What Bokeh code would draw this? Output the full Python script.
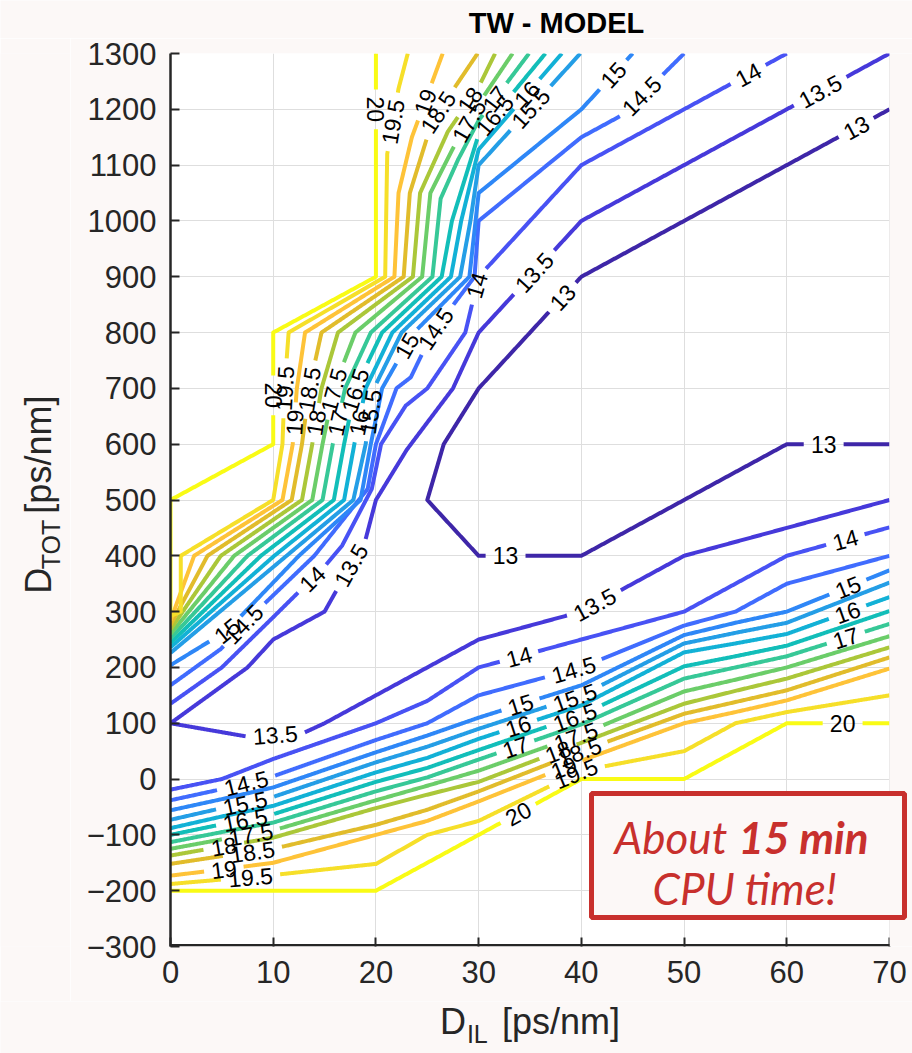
import math
from bokeh.plotting import figure
from bokeh.layouts import column, row
from bokeh.models import Range1d, FixedTicker, Label, BoxAnnotation
from bokeh.core.properties import value
from bokeh.embed import file_html
from bokeh.resources import INLINE

# ---------------- data ----------------
LEVELS = [13.0, 13.5, 14.0, 14.5, 15.0, 15.5, 16.0, 16.5, 17.0, 17.5, 18.0, 18.5, 19.0, 19.5, 20.0]
X_TICKS = [0, 10, 20, 30, 40, 50, 60, 70]
Y_TICKS = [-300, -200, -100, 0, 100, 200, 300, 400, 500, 600, 700, 800, 900, 1000, 1100, 1200, 1300]

# level 13 (one U-shaped line)
L13_X = [70, 40, 30, 26.6, 25, 30, 40, 50, 60, 70]
L13_Y = [1200, 900, 700, 600, 500, 400, 400, 500, 600, 600]

# level 13.5 (upper branch folds back at D_IL=0 into the lower branch)
L135_X = [70, 40, 30, 27.5, 23, 20, 19, 15.7, 15, 10, 7.5, 0, 7.5, 13, 15, 20, 30, 40, 50, 60, 70]
L135_Y = [1300, 1000, 800, 700, 590, 500, 430, 323, 300, 250, 200, 100, 76, 83, 100, 150, 250, 300, 400, 450, 500]

# upper branches (levels 14 ... 20)
U140_X = [60, 40, 30, 28.7, 25, 22.9, 20.5, 19.6, 16.7, 15.1, 10, 5, 0]
U140_Y = [1300, 1100, 900, 800, 700, 669, 600, 520, 418, 383, 290, 200, 135]
U145_X = [50, 44, 40, 30, 29.6, 25.5, 23.4, 22, 20, 19.2, 14, 7.1, 4.9, 0]
U145_Y = [1300, 1190, 1150, 1000, 900, 800, 720, 700, 600, 520, 400, 278, 233, 168]
U150_X = [45, 40, 30, 29.1, 23.7, 20.6, 19.5, 18.5, 12.5, 5.5, 0]
U150_Y = [1300, 1200, 1050, 900, 800, 700, 600, 500, 400, 266, 204]
U155_X = [39.9, 30, 29.2, 28.2, 22.5, 19.8, 19.0, 17.8, 11.3, 0]
U155_Y = [1300, 1100, 1000, 900, 800, 700, 600, 500, 400, 226]
U160_X = [38.1, 30, 28.3, 27.3, 21.6, 19.0, 17.9, 16.9, 10.1, 0]
U160_Y = [1300, 1128, 1000, 900, 800, 700, 600, 500, 400, 236]
U165_X = [36.5, 30, 27.4, 26.4, 20.6, 18.0, 16.9, 15.9, 8.8, 0]
U165_Y = [1300, 1155, 1000, 900, 800, 700, 600, 500, 400, 244]
U170_X = [34.9, 30, 28, 26.3, 25.5, 19.5, 17.0, 15.8, 14.8, 7.5, 0]
U170_Y = [1300, 1180, 1110, 1040, 900, 800, 700, 600, 500, 400, 252]
U175_X = [33.3, 30, 27.5, 25.3, 24.5, 18.0, 15.9, 14.8, 13.8, 6.2, 0]
U175_Y = [1300, 1210, 1130, 1050, 900, 800, 700, 600, 500, 400, 260]
U180_X = [31.6, 30, 27, 24.3, 23.6, 16.3, 14.7, 13.8, 12.8, 4.9, 0]
U180_Y = [1300, 1240, 1160, 1050, 900, 800, 700, 600, 500, 400, 268]
U185_X = [29.9, 25.5, 23.3, 22.7, 14.7, 13.5, 12.8, 11.8, 3.6, 0]
U185_Y = [1300, 1180, 1050, 900, 800, 700, 600, 500, 400, 276]
U190_X = [26.5, 23.5, 22.2, 21.8, 13.1, 12.3, 11.9, 10.9, 2.3, 0]
U190_Y = [1300, 1150, 1050, 900, 800, 700, 600, 500, 400, 284]
U195_X = [23.1, 22.2, 21.1, 20.9, 11.5, 11.1, 10.9, 10.0, 1.0, 1.0, 0]
U195_Y = [1300, 1237, 1120, 900, 800, 700, 600, 500, 400, 300, 292]
U200_X = [20, 20, 10, 10, 0, 0]
U200_Y = [1300, 900, 800, 600, 500, 300]

# lower band (levels 14 ... 20), common D_IL columns
LOW_X = [0, 5, 10, 20, 25, 30, 40, 50, 55, 60, 70]
W140_Y = [-19, 0, 36, 100, 140, 200, 250, 300, 350, 400, 451]
W145_Y = [-38, -18, 5, 70, 100, 150, 200, 275, 300, 350, 400]
W150_Y = [-56, -36, -15, 48, 78, 110, 168, 258, 280, 300, 374]
W155_Y = [-73, -52, -32, 30, 58, 90, 150, 243, 262, 280, 352]
W160_Y = [-88, -67, -48, 12, 38, 72, 132, 227, 243, 260, 326]
W165_Y = [-100, -81, -63, -5, 20, 52, 115, 202, 220, 239, 301]
W170_Y = [-113, -95, -78, -22, 3, 35, 98, 180, 200, 220, 278]
W175_Y = [-125, -108, -92, -38, -12, 15, 80, 157, 178, 200, 256]
W180_Y = [-137, -121, -105, -52, -28, -5, 65, 135, 158, 180, 236]
W185_Y = [-152, -138, -125, -82, -55, -22, 50, 117, 138, 159, 218]
W190_Y = [-173, -162, -150, -100, -75, -40, 33, 100, 120, 141, 198]
W195_Y = [-188, -180, -172, -152, -100, -75, 15, 50, 100, 120, 150]
W200_Y = [-200, -200, -200, -200, -150, -100, 0, 0, 50, 100, 100]

# inline contour labels (level, approximate position)
LABEL_LEVEL = [13, 13, 13, 13,
               13.5, 13.5, 13.5, 13.5, 13.5,
               14, 14, 14, 14, 14,
               14.5, 14.5, 14.5, 14.5, 14.5,
               15, 15, 15, 15, 15,
               15.5, 15.5, 15.5, 15.5,
               16, 16, 16, 16,
               16.5, 16.5, 16.5, 16.5,
               17, 17, 17, 17,
               17.5, 17.5, 17.5, 17.5,
               18, 18, 18, 18,
               18.5, 18.5, 18.5, 18.5,
               19, 19, 19, 19,
               19.5, 19.5, 19.5, 19.5,
               20, 20, 20, 20]
LABEL_X = [38, 66.7, 32.6, 63.6,
           63.1, 35.4, 17.7, 10.2, 41.2,
           56.2, 29.9, 13.8, 33.9, 65.7,
           46, 25.3, 7.1, 7.5, 39.3,
           43, 23.9, 5.5, 34.1, 65.9,
           36, 19.0, 7.3, 39.3,
           35.2, 17.9, 33.9, 65.9,
           31.6, 17.2, 7.3, 39.4,
           30.7, 15.8, 33.6, 65.7,
           28.4, 15.1, 7.8, 39.4,
           28.4, 13.8, 5.2, 37.8,
           25.5, 13.0, 8.0, 39.8,
           24, 11.9, 5.2, 38.1,
           21.6, 11.0, 7.8, 39.4,
           20, 10, 33.9, 65.4]
LABEL_Y = [866, 1171, 400, 600,
           1237, 908, 383, 73, 314,
           1264, 884, 359, 218, 427,
           1222, 813, 278, -15, 192,
           1264, 768, 266, 132, 344,
           1186, 660, -45, 147,
           1219, 640, 93, 300,
           1189, 700, -75, 111,
           1231, 640, 57, 257,
           1186, 700, -100, 78,
           1225, 640, -119, 48,
           1201, 700, -132, 48,
           1219, 640, -158, 30,
           1177, 700, -179, 12,
           1200, 687, -62, 96]

# ---------------- styling helpers ----------------
PARULA = [
    (0.2422, 0.1504, 0.6603), (0.2504, 0.1650, 0.7076), (0.2578, 0.1818, 0.7511), (0.2647, 0.1978, 0.7952),
    (0.2706, 0.2147, 0.8364), (0.2751, 0.2342, 0.8710), (0.2783, 0.2559, 0.8991), (0.2803, 0.2782, 0.9221),
    (0.2813, 0.3006, 0.9414), (0.2810, 0.3228, 0.9579), (0.2795, 0.3447, 0.9717), (0.2760, 0.3667, 0.9829),
    (0.2699, 0.3892, 0.9906), (0.2602, 0.4123, 0.9952), (0.2440, 0.4358, 0.9988), (0.2206, 0.4603, 0.9973),
    (0.1963, 0.4847, 0.9892), (0.1834, 0.5074, 0.9798), (0.1786, 0.5289, 0.9682), (0.1764, 0.5499, 0.9520),
    (0.1687, 0.5703, 0.9359), (0.1540, 0.5902, 0.9218), (0.1460, 0.6091, 0.9079), (0.1380, 0.6276, 0.8973),
    (0.1248, 0.6459, 0.8883), (0.1113, 0.6635, 0.8763), (0.0952, 0.6798, 0.8598), (0.0689, 0.6948, 0.8394),
    (0.0297, 0.7082, 0.8163), (0.0036, 0.7203, 0.7917), (0.0067, 0.7312, 0.7660), (0.0433, 0.7411, 0.7394),
    (0.0964, 0.7500, 0.7120), (0.1408, 0.7584, 0.6842), (0.1717, 0.7670, 0.6554), (0.1938, 0.7758, 0.6251),
    (0.2161, 0.7843, 0.5923), (0.2470, 0.7918, 0.5567), (0.2906, 0.7973, 0.5188), (0.3406, 0.8008, 0.4789),
    (0.3909, 0.8029, 0.4354), (0.4456, 0.8024, 0.3909), (0.5044, 0.7993, 0.3480), (0.5616, 0.7942, 0.3045),
    (0.6174, 0.7876, 0.2612), (0.6720, 0.7793, 0.2227), (0.7242, 0.7698, 0.1910), (0.7738, 0.7598, 0.1646),
    (0.8203, 0.7498, 0.1535), (0.8634, 0.7406, 0.1596), (0.9035, 0.7330, 0.1774), (0.9393, 0.7288, 0.2100),
    (0.9728, 0.7298, 0.2394), (0.9956, 0.7434, 0.2371), (0.9970, 0.7659, 0.2199), (0.9952, 0.7893, 0.2028),
    (0.9892, 0.8136, 0.1885), (0.9786, 0.8386, 0.1766), (0.9676, 0.8639, 0.1643), (0.9610, 0.8890, 0.1537),
    (0.9597, 0.9135, 0.1423), (0.9628, 0.9373, 0.1265), (0.9691, 0.9606, 0.1064), (0.9769, 0.9839, 0.0805)]


def level_color(lv):
    t = (lv - LEVELS[0]) / (LEVELS[-1] - LEVELS[0]) * (len(PARULA) - 1)
    i = min(int(math.floor(t)), len(PARULA) - 2)
    f = t - i
    c = [PARULA[i][k] * (1 - f) + PARULA[i + 1][k] * f for k in range(3)]
    return "#%02x%02x%02x" % tuple(int(round(v * 255)) for v in c)


# page geometry (pixels)
W, H = 912, 1053
FL, FR, FT, FB = 170, 889, 53, 946          # axes box of the original chart
X0, X1, Y0, Y1 = 0, 70, -300, 1300
KX = (FR - FL) / (X1 - X0)
KY = (FB - FT) / (Y1 - Y0)
XR = X1 + (W - FR) / KX                      # frame runs to the page edge (for the note box)

TOP_H = 38          # title strip
LEFT_W = 70         # y-label strip
BOT_H = 52          # x-label strip
P_TOP = FT - TOP_H
P_BOT = H - BOT_H - FB
P_H = P_TOP + (FB - FT) + P_BOT


def to_screen(x, y):
    return FL + (x - X0) * KX, FT + (Y1 - y) * KY


def to_data(sx, sy):
    return X0 + (sx - FL) / KX, Y1 - (sy - FT) / KY


BRANCHES = [(13.0, L13_X, L13_Y), (13.5, L135_X, L135_Y),
            (14.0, U140_X, U140_Y), (14.5, U145_X, U145_Y), (15.0, U150_X, U150_Y),
            (15.5, U155_X, U155_Y), (16.0, U160_X, U160_Y), (16.5, U165_X, U165_Y),
            (17.0, U170_X, U170_Y), (17.5, U175_X, U175_Y), (18.0, U180_X, U180_Y),
            (18.5, U185_X, U185_Y), (19.0, U190_X, U190_Y), (19.5, U195_X, U195_Y),
            (20.0, U200_X, U200_Y),
            (14.0, LOW_X, W140_Y), (14.5, LOW_X, W145_Y), (15.0, LOW_X, W150_Y),
            (15.5, LOW_X, W155_Y), (16.0, LOW_X, W160_Y), (16.5, LOW_X, W165_Y),
            (17.0, LOW_X, W170_Y), (17.5, LOW_X, W175_Y), (18.0, LOW_X, W180_Y),
            (18.5, LOW_X, W185_Y), (19.0, LOW_X, W190_Y), (19.5, LOW_X, W195_Y),
            (20.0, LOW_X, W200_Y)]

LABEL_PX = 23

dense = []
for lv, xs, ys in BRANCHES:
    pts = []
    for i in range(len(xs) - 1):
        a = to_screen(xs[i], ys[i])
        b = to_screen(xs[i + 1], ys[i + 1])
        L = math.hypot(b[0] - a[0], b[1] - a[1])
        n = max(1, int(math.ceil(L / 1.0)))
        for k in range(n):
            t = k / n
            pts.append((a[0] + (b[0] - a[0]) * t, a[1] + (b[1] - a[1]) * t))
    pts.append(to_screen(xs[-1], ys[-1]))
    arc = [0.0]
    for k in range(1, len(pts)):
        arc.append(arc[-1] + math.hypot(pts[k][0] - pts[k - 1][0], pts[k][1] - pts[k - 1][1]))
    dense.append({"level": lv, "pts": pts, "arc": arc, "cut": [False] * len(pts)})


def text_width(txt):
    return sum(0.278 if ch == "." else 0.556 for ch in txt) * LABEL_PX


lab_x, lab_y, lab_t, lab_a = [], [], [], []
for lv, lx, ly in zip(LABEL_LEVEL, LABEL_X, LABEL_Y):
    sx, sy = to_screen(lx, ly)
    best = None
    for d in dense:
        if d["level"] != lv:
            continue
        for j, p in enumerate(d["pts"]):
            dd = (p[0] - sx) ** 2 + (p[1] - sy) ** 2
            if best is None or dd < best[0]:
                best = (dd, d, j)
    _, d, j = best
    pts, arc = d["pts"], d["arc"]
    s0 = arc[j]
    j1 = j
    while j1 > 0 and arc[j1] > s0 - 10:
        j1 -= 1
    j2 = j
    while j2 < len(pts) - 1 and arc[j2] < s0 + 10:
        j2 += 1
    ang = math.atan2(-(pts[j2][1] - pts[j1][1]), pts[j2][0] - pts[j1][0])
    if ang > math.pi / 2 - 1e-3:
        ang -= math.pi
    if ang < -math.pi / 2 - 1e-3:
        ang += math.pi
    txt = "%g" % lv
    half = text_width(txt) / 2 + 7
    for k in range(len(pts)):
        if abs(arc[k] - s0) < half:
            d["cut"][k] = True
    px, py = to_data(*pts[j])
    lab_x.append(px)
    lab_y.append(py)
    lab_t.append(txt)
    lab_a.append(ang)

seg_xs, seg_ys, seg_c = [], [], []
for d in dense:
    run = []
    for k, p in enumerate(d["pts"]):
        if d["cut"][k]:
            if len(run) > 1:
                seg_xs.append([to_data(*q)[0] for q in run])
                seg_ys.append([to_data(*q)[1] for q in run])
                seg_c.append(level_color(d["level"]))
            run = []
        else:
            run.append(p)
    if len(run) > 1:
        seg_xs.append([to_data(*q)[0] for q in run])
        seg_ys.append([to_data(*q)[1] for q in run])
        seg_c.append(level_color(d["level"]))

# ---------------- main figure ----------------
BG = "#fcf8f7"
AX = "#262626"
FONT = "Liberation Sans"
RED = "#c8302d"

p = figure(frame_width=W - FL, frame_height=FB - FT,
           x_range=Range1d(X0, XR), y_range=Range1d(Y0, Y1),
           output_backend="svg", toolbar_location=None,
           min_border_left=FL - LEFT_W, min_border_right=0,
           min_border_top=P_TOP, min_border_bottom=P_BOT)
p.background_fill_color = "white"
p.border_fill_color = BG
p.outline_line_color = None

for ax, ticks in ((p.xaxis, X_TICKS), (p.yaxis, Y_TICKS)):
    ax.ticker = FixedTicker(ticks=ticks)
    ax.major_label_text_font = FONT
    ax.major_label_text_font_size = "31px"
    ax.major_label_text_color = AX
    ax.axis_line_color = AX
    ax.axis_line_width = 2.5
    ax.major_tick_line_color = AX
    ax.major_tick_line_width = 2
    ax.major_tick_in = 9
    ax.major_tick_out = 0
    ax.minor_tick_in = 0
    ax.minor_tick_out = 0
p.xaxis.axis_line_color = None
p.xaxis.major_label_standoff = 14
p.yaxis.major_label_standoff = 14
p.xgrid.ticker = FixedTicker(ticks=X_TICKS)
p.ygrid.ticker = FixedTicker(ticks=Y_TICKS)
p.grid.grid_line_color = "#dedede"
p.grid.grid_line_width = 1

# page colour to the right of D_IL = 70 and the bottom axis line (ends at 70)
p.add_layout(BoxAnnotation(left=X1, fill_color=BG, fill_alpha=1.0, line_alpha=0.0))
p.add_layout(BoxAnnotation(left=X0, right=X1, bottom=Y0, top=Y0 + 2.5 / KY,
                           fill_color=AX, fill_alpha=1.0, line_alpha=0.0))

p.multi_line(xs=seg_xs, ys=seg_ys, line_color=seg_c, line_width=4, line_join="round")
p.text(x=lab_x, y=lab_y, text=lab_t, angle=lab_a, text_font=value(FONT),
       text_font_size="%dpx" % LABEL_PX, text_align="center", text_baseline="middle",
       text_color="black")

# note box
bl, bt = to_data(591, 793)
br, bb = to_data(904, 917)
p.add_layout(BoxAnnotation(left=bl, right=br, top=bt, bottom=bb, fill_color=BG,
                           fill_alpha=1.0, line_color=RED, line_alpha=1.0, line_width=5))


def note(sx, sy, text, style):
    x, y = to_data(sx, sy)
    p.add_layout(Label(x=x, y=y, text=text, text_font="Lato", text_font_size="44px",
                       text_font_style=style, text_align="left", text_baseline="middle",
                       text_color=RED))


note(614, 836, "About", "italic")
note(738, 836, "15 min", "bold italic")
note(652, 887, "CPU time!", "italic")


# ---------------- text strips (title, axis labels) ----------------
def strip(w, h):
    f = figure(width=w, height=h, x_range=Range1d(0, w), y_range=Range1d(h, 0),
               output_backend="svg", toolbar_location=None, min_border=0,
               x_axis_location=None, y_axis_location=None)
    f.background_fill_color = BG
    f.border_fill_color = BG
    f.outline_line_color = None
    f.grid.visible = False
    return f


AXL = 36      # axis label font
SUB = 25      # subscript font

pt = strip(W, TOP_H)
pt.text(x=[556], y=[22], text=["TW - MODEL"], text_font=value(FONT), text_font_size="29px",
        text_font_style="bold", text_align="center", text_baseline="middle", text_color="black")

w_d = 0.722 * AXL
w_il = (0.278 + 0.611) * SUB + 2
w_tot = (0.611 + 0.778 + 0.611) * SUB + 2
w_sp = 0.33 * AXL
w_rest = 3.279 * AXL

# x label: D_IL [ps/nm], centred under the axes
pb = strip(W, BOT_H)
tot = w_d + w_il + w_sp + w_rest
x0 = (FL + FR) / 2 - tot / 2
yb = 1021 - (H - BOT_H)
pb.text(x=[x0], y=[yb], text=["D"], text_font=value(FONT), text_font_size="%dpx" % AXL,
        text_align="left", text_baseline="middle", text_color=AX)
pb.text(x=[x0 + w_d + 1], y=[yb + 12], text=["IL"], text_font=value(FONT),
        text_font_size="%dpx" % SUB, text_align="left", text_baseline="middle", text_color=AX)
pb.text(x=[x0 + w_d + w_il + w_sp], y=[yb], text=["[ps/nm]"], text_font=value(FONT),
        text_font_size="%dpx" % AXL, text_align="left", text_baseline="middle", text_color=AX)

# y label: D_TOT [ps/nm], rotated, beside the axes (each piece placed by its centre)
pl = strip(LEFT_W, P_H)
tot = w_d + w_tot + w_sp + w_rest
ystart = (FT + FB) / 2 + tot / 2 + 16 - TOP_H
xc = 38
pl.text(x=[xc], y=[ystart - w_d / 2], text=["D"], angle=[math.pi / 2], text_font=value(FONT),
        text_font_size="%dpx" % AXL, text_align="center", text_baseline="middle", text_color=AX)
pl.text(x=[xc + 12], y=[ystart - w_d - w_tot / 2], text=["TOT"], angle=[math.pi / 2],
        text_font=value(FONT), text_font_size="%dpx" % SUB, text_align="center",
        text_baseline="middle", text_color=AX)
pl.text(x=[xc], y=[ystart - w_d - w_tot - w_sp - w_rest / 2], text=["[ps/nm]"], angle=[math.pi / 2],
        text_font=value(FONT), text_font_size="%dpx" % AXL, text_align="center",
        text_baseline="middle", text_color=AX)

layout = column(pt, row(pl, p), pb)
open("out.html", "w").write(file_html(layout, INLINE))
